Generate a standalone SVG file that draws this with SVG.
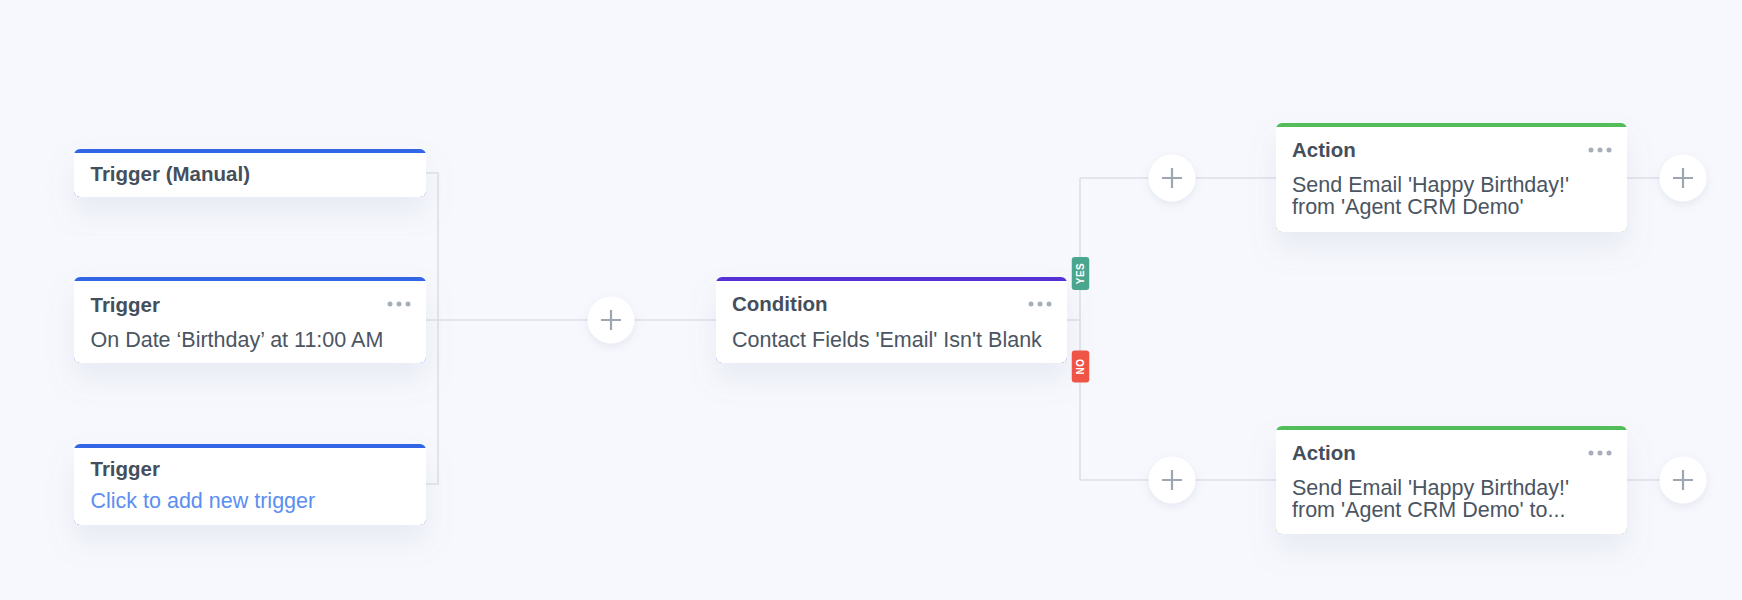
<svg xmlns="http://www.w3.org/2000/svg" width="1742" height="600" viewBox="0 0 1742 600">
  <defs>
    <filter id="cardShadow" x="-20%" y="-40%" width="140%" height="220%">
      <feDropShadow dx="0" dy="16" stdDeviation="14" flood-color="#7d8bb0" flood-opacity="0.13"/>
    </filter>
    <filter id="plusShadow" x="-50%" y="-50%" width="200%" height="200%">
      <feDropShadow dx="0" dy="3" stdDeviation="4" flood-color="#7d8bb0" flood-opacity="0.16"/>
    </filter>
    <g id="dots">
      <circle cx="-36" cy="0" r="2.5"/>
      <circle cx="-27" cy="0" r="2.5"/>
      <circle cx="-18" cy="0" r="2.5"/>
    </g>
    <g id="plus">
      <circle cx="0" cy="0" r="23.5" fill="#ffffff" filter="url(#plusShadow)"/>
      <path d="M-10 0 H10 M0 -10 V10" stroke="#9ea6b1" stroke-width="2.2" fill="none"/>
    </g>
  </defs>
  <style>
    .title { font-family: "Liberation Sans", Arial, sans-serif; font-size: 20.5px; font-weight: 700; fill: #454f5b; }
    .body { font-family: "Liberation Sans", Arial, sans-serif; font-size: 21.5px; fill: #4b5562; }
    .link { font-family: "Liberation Sans", Arial, sans-serif; font-size: 21.5px; fill: #5b8ef0; }
    .badge { font-family: "Liberation Sans", Arial, sans-serif; font-size: 10px; font-weight: 700; fill: #ffffff; letter-spacing: 0.5px; }
    .conn { stroke: #dcdfe6; stroke-width: 1.6; fill: none; }
    .dots { fill: #a7aeb9; }
    .card { fill: #ffffff; }
  </style>

  <rect x="0" y="0" width="1742" height="600" fill="#f7f8fd"/>

  <g id="connectors">
    <path class="conn" d="M426 173 H438 V484 H426"/>
    <path class="conn" d="M426 320 H716"/>
    <path class="conn" d="M1067 320 H1080"/>
    <path class="conn" d="M1080 178 V480"/>
    <path class="conn" d="M1080 178 H1276"/>
    <path class="conn" d="M1080 480 H1276"/>
    <path class="conn" d="M1627 178 H1683"/>
    <path class="conn" d="M1627 480 H1683"/>
  </g>

  <g id="trigger-manual" transform="translate(74,149)">
    <g filter="url(#cardShadow)">
      <rect x="0" y="0" width="352" height="48" rx="6" fill="#3366e6"/>
      <path class="card" d="M0 4 H352 V42 A6 6 0 0 1 346 48 H6 A6 6 0 0 1 0 42 Z"/>
    </g>
    <text class="title" x="16.5" y="32">Trigger (Manual)</text>
  </g>

  <g id="trigger-date" transform="translate(74,277)">
    <g filter="url(#cardShadow)">
      <rect x="0" y="0" width="352" height="86" rx="6" fill="#3366e6"/>
      <path class="card" d="M0 4 H352 V80 A6 6 0 0 1 346 86 H6 A6 6 0 0 1 0 80 Z"/>
    </g>
    <text class="title" x="16.5" y="34.5">Trigger</text>
    <use href="#dots" class="dots" x="352" y="27"/>
    <text class="body" x="16.5" y="70">On Date ‘Birthday’ at 11:00 AM</text>
  </g>

  <g id="trigger-new" transform="translate(74,444)">
    <g filter="url(#cardShadow)">
      <rect x="0" y="0" width="352" height="81" rx="6" fill="#3366e6"/>
      <path class="card" d="M0 4 H352 V75 A6 6 0 0 1 346 81 H6 A6 6 0 0 1 0 75 Z"/>
    </g>
    <text class="title" x="16.5" y="32">Trigger</text>
    <text class="link" x="16.5" y="64">Click to add new trigger</text>
  </g>

  <g id="plus-1" transform="translate(611,320)">
    <use href="#plus"/>
  </g>

  <g id="condition" transform="translate(716,277)">
    <g filter="url(#cardShadow)">
      <rect x="0" y="0" width="351" height="86" rx="6" fill="#5631d6"/>
      <path class="card" d="M0 4 H351 V80 A6 6 0 0 1 345 86 H6 A6 6 0 0 1 0 80 Z"/>
    </g>
    <text class="title" x="16" y="34">Condition</text>
    <use href="#dots" class="dots" x="351" y="27"/>
    <text class="body" x="16" y="70">Contact Fields 'Email' Isn't Blank</text>
  </g>

  <g id="badge-yes" transform="translate(1080.5,273.5)">
    <rect x="-8.75" y="-16.5" width="17.5" height="33" rx="3" fill="#4aa68f"/>
    <text class="badge" transform="rotate(-90)" x="0" y="3.6" text-anchor="middle">YES</text>
  </g>

  <g id="badge-no" transform="translate(1080.5,366.5)">
    <rect x="-8.75" y="-16" width="17.5" height="32" rx="3" fill="#ee5546"/>
    <text class="badge" transform="rotate(-90)" x="0" y="3.6" text-anchor="middle">NO</text>
  </g>

  <g id="plus-yes" transform="translate(1172,178)">
    <use href="#plus"/>
  </g>
  <g id="plus-no" transform="translate(1172,480)">
    <use href="#plus"/>
  </g>

  <g id="action-1" transform="translate(1276,123)">
    <g filter="url(#cardShadow)">
      <rect x="0" y="0" width="351" height="109" rx="6" fill="#52bd5a"/>
      <path class="card" d="M0 4 H351 V103 A6 6 0 0 1 345 109 H6 A6 6 0 0 1 0 103 Z"/>
    </g>
    <text class="title" x="16" y="34">Action</text>
    <use href="#dots" class="dots" x="351" y="27"/>
    <text class="body" x="16" y="69">Send Email 'Happy Birthday!'</text>
    <text class="body" x="16" y="90.5">from 'Agent CRM Demo'</text>
  </g>

  <g id="action-2" transform="translate(1276,426)">
    <g filter="url(#cardShadow)">
      <rect x="0" y="0" width="351" height="108" rx="6" fill="#52bd5a"/>
      <path class="card" d="M0 4 H351 V102 A6 6 0 0 1 345 108 H6 A6 6 0 0 1 0 102 Z"/>
    </g>
    <text class="title" x="16" y="34">Action</text>
    <use href="#dots" class="dots" x="351" y="27"/>
    <text class="body" x="16" y="69">Send Email 'Happy Birthday!'</text>
    <text class="body" x="16" y="90.5">from 'Agent CRM Demo' to...</text>
  </g>

  <g id="plus-end-1" transform="translate(1683,178)">
    <use href="#plus"/>
  </g>
  <g id="plus-end-2" transform="translate(1683,480)">
    <use href="#plus"/>
  </g>
</svg>
